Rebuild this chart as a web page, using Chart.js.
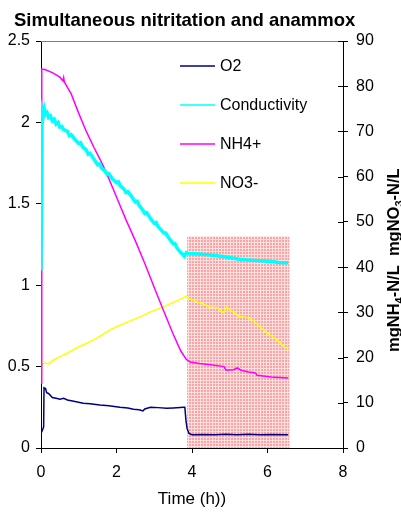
<!DOCTYPE html>
<html lang="en">
<head>
  <meta charset="UTF-8">
  <title>Simultaneous nitritation and anammox</title>
  <script src="https://cdn.jsdelivr.net/npm/chart.js"></script>
  <style>
    body {
      margin: 0;
      background: white;
    }
    #chart {
      display: block;
    }
  </style>
</head>
<body>
  <canvas id="chart" width="401" height="513"></canvas>

  <script>
    const xTicks = [0, 2, 4, 6, 8];
    const leftTicks = [0, 0.5, 1, 1.5, 2, 2.5];
    const rightTicks = [0, 10, 20, 30, 40, 50, 60, 70, 80, 90];

    const o2Time = [0, 0.04, 0.07, 0.08, 0.12, 0.15, 0.2, 0.3, 0.4, 0.5, 0.6, 0.7, 0.9, 1.12, 1.3, 1.56, 1.8, 2.09, 2.3, 2.45, 2.6, 2.7, 2.75, 2.9, 3.1, 3.33, 3.5, 3.78, 3.81, 3.84, 3.87, 3.92, 4.0, 4.3, 4.6, 4.9, 5.2, 5.5, 5.8, 6.1, 6.55];
    const o2Values = [0.09, 0.11, 0.13, 0.37, 0.365, 0.34, 0.335, 0.31, 0.305, 0.30, 0.305, 0.295, 0.285, 0.275, 0.272, 0.264, 0.26, 0.25, 0.245, 0.238, 0.235, 0.228, 0.24, 0.25, 0.248, 0.244, 0.246, 0.25, 0.25, 0.17, 0.12, 0.09, 0.082, 0.083, 0.082, 0.085, 0.082, 0.084, 0.082, 0.083, 0.082];

    const condTime = [0, 0.03, 0.06, 0.09, 0.12, 0.16, 0.2, 0.25, 0.3, 0.35, 0.4, 0.45, 0.5, 0.55, 0.6, 0.7, 0.75, 0.8, 0.9, 1.0, 1.05, 1.1, 1.2, 1.25, 1.3, 1.4, 1.5, 1.55, 1.6, 1.7, 1.75, 1.8, 1.9, 2.0, 2.05, 2.1, 2.2, 2.25, 2.3, 2.4, 2.5, 2.55, 2.6, 2.7, 2.75, 2.8, 2.9, 3.0, 3.05, 3.1, 3.2, 3.25, 3.3, 3.4, 3.5, 3.55, 3.6, 3.7, 3.75, 3.8, 3.85, 3.9, 4.2, 4.5, 4.75, 5.0, 5.25, 5.5, 5.8, 6.1, 6.3, 6.55];
    const condValues = [1.09, 2.07, 2.04, 2.08, 2.05, 2.06, 2.03, 2.04, 2.01, 2.02, 1.99, 2.00, 1.97, 1.975, 1.955, 1.945, 1.92, 1.925, 1.895, 1.87, 1.875, 1.85, 1.83, 1.805, 1.81, 1.775, 1.74, 1.745, 1.72, 1.70, 1.68, 1.685, 1.65, 1.63, 1.635, 1.61, 1.59, 1.57, 1.575, 1.545, 1.51, 1.515, 1.49, 1.46, 1.44, 1.445, 1.41, 1.38, 1.385, 1.36, 1.335, 1.32, 1.32, 1.285, 1.255, 1.255, 1.23, 1.20, 1.19, 1.178, 1.20, 1.195, 1.192, 1.185, 1.178, 1.17, 1.16, 1.155, 1.15, 1.145, 1.14, 1.138];

    const nh4Time = [0, 0.02, 0.1, 0.3, 0.5, 0.58, 0.6, 0.62, 0.8, 1.0, 1.2, 1.4, 1.6, 1.75, 2.0, 2.25, 2.5, 2.75, 3.0, 3.25, 3.5, 3.7, 3.85, 3.95, 4.2, 4.5, 4.85, 4.9, 5.1, 5.2, 5.3, 5.5, 5.68, 5.72, 6.1, 6.55];
    const nh4Values = [14.4, 83.8, 83.7, 83.0, 82.0, 81.2, 81.9, 80.9, 78.3, 74.0, 70.0, 66.5, 63.2, 60.5, 55.5, 50.5, 45.8, 40.8, 35.5, 30.3, 25.2, 21.5, 19.6, 19.0, 18.7, 18.4, 18.0, 17.2, 17.3, 17.7, 17.2, 16.8, 16.6, 16.1, 15.7, 15.5];

    const no3Time = [0, 0.03, 0.1, 0.2, 0.3, 0.5, 0.68, 1.0, 1.2, 1.39, 1.6, 1.8, 2.0, 2.3, 2.62, 2.9, 3.24, 3.5, 3.77, 3.85, 3.9, 4.03, 4.3, 4.48, 4.7, 4.8, 4.85, 4.92, 5.0, 5.27, 5.5, 5.6, 5.89, 6.24, 6.51, 6.55];
    const no3Values = [16.6, 18.5, 18.8, 18.6, 19.3, 20.2, 20.9, 22.4, 23.1, 23.9, 24.9, 26.0, 26.8, 27.9, 29.0, 30.1, 31.2, 32.2, 33.2, 33.6, 33.0, 32.7, 31.8, 31.1, 31.0, 30.0, 30.1, 31.2, 30.6, 29.0, 28.8, 28.3, 26.1, 23.9, 22.0, 21.8];

    // shaded period (h) and its height on the left axis
    const shadeX = [3.87, 6.58];
    const shadeTop = 1.3;

    const FONT = '"Liberation Sans", Arial, sans-serif';

    function pts(t, v) {
      return t.map((x, i) => ({ x: x, y: v[i] }));
    }

    // small pink grid fill for the shaded block
    function makePattern(ctx) {
      const c = document.createElement('canvas');
      c.width = 3;
      c.height = 3;
      const p = c.getContext('2d');
      p.fillStyle = 'rgb(255,222,222)';
      p.fillRect(0, 0, 3, 3);
      p.fillStyle = 'rgb(250,165,165)';
      p.fillRect(0, 0, 2, 2);
      return ctx.createPattern(c, 'repeat');
    }

    const shadePlugin = {
      id: 'shade',
      beforeDatasetsDraw(chart) {
        const ctx = chart.ctx;
        const x = chart.scales.x, y = chart.scales.y;
        const x0 = x.getPixelForValue(shadeX[0]);
        const x1 = x.getPixelForValue(shadeX[1]);
        const y0 = y.getPixelForValue(shadeTop);
        const y1 = y.getPixelForValue(0);
        ctx.save();
        ctx.fillStyle = makePattern(ctx);
        ctx.fillRect(x0, y0, x1 - x0, y1 - y0);
        ctx.restore();
      }
    };

    const decorPlugin = {
      id: 'decor',
      afterDraw(chart) {
        const ctx = chart.ctx;
        const a = chart.chartArea;
        ctx.save();

        // top frame line
        ctx.strokeStyle = '#808080';
        ctx.lineWidth = 1;
        ctx.beginPath();
        ctx.moveTo(a.left, a.top + 0.5);
        ctx.lineTo(a.right, a.top + 0.5);
        ctx.stroke();

        // inner half of the right-axis ticks
        const y2 = chart.scales.y2;
        ctx.strokeStyle = '#000';
        ctx.beginPath();
        rightTicks.forEach(v => {
          const py = Math.round(y2.getPixelForValue(v)) + 0.5;
          ctx.moveTo(a.right - 5, py);
          ctx.lineTo(a.right, py);
        });
        ctx.stroke();

        // title
        ctx.fillStyle = '#000';
        ctx.font = 'bold 18.5px ' + FONT;
        ctx.textAlign = 'left';
        ctx.textBaseline = 'alphabetic';
        ctx.fillText('Simultaneous nitritation and anammox', 14, 26);

        // x title
        ctx.font = '17px ' + FONT;
        ctx.textAlign = 'center';
        ctx.fillText('Time (h))', (a.left + a.right) / 2, 504);

        // legend
        ctx.font = '16px ' + FONT;
        ctx.textAlign = 'left';
        ctx.textBaseline = 'middle';
        chart.data.datasets.forEach((ds, i) => {
          const ly = 66 + i * 39;
          ctx.strokeStyle = ds.borderColor;
          ctx.lineWidth = 1.5;
          ctx.beginPath();
          ctx.moveTo(180, ly);
          ctx.lineTo(215, ly);
          ctx.stroke();
          ctx.fillStyle = '#000';
          ctx.fillText(ds.label, 220, ly + 1);
        });

        // right axis title, rotated, with subscripts
        ctx.translate(399, 352);
        ctx.rotate(-Math.PI / 2);
        ctx.textBaseline = 'alphabetic';
        let cx = 0;
        const parts = [['mgNH', 0], ['4', 1], ['-N/L  mgNO', 0], ['3', 1], ['-N/L', 0]];
        parts.forEach(([s, sub]) => {
          ctx.font = sub ? 'bold 11px ' + FONT : 'bold 16.5px ' + FONT;
          ctx.fillText(s, cx, sub ? 4 : 0);
          cx += ctx.measureText(s).width;
        });
        ctx.restore();
      }
    };

    const tickFont = { family: FONT, size: 16 };

    new Chart(document.getElementById('chart').getContext('2d'), {
      type: 'line',
      data: {
        datasets: [
          { label: 'O2', data: pts(o2Time, o2Values), borderColor: '#000080', borderWidth: 1.5, yAxisID: 'y' },
          { label: 'Conductivity', data: pts(condTime, condValues), borderColor: '#00FFFF', borderWidth: 3.5, yAxisID: 'y' },
          { label: 'NH4+', data: pts(nh4Time, nh4Values), borderColor: '#FF00FF', borderWidth: 1.5, yAxisID: 'y2' },
          { label: 'NO3-', data: pts(no3Time, no3Values), borderColor: '#FFFF00', borderWidth: 1.5, yAxisID: 'y2' }
        ]
      },
      options: {
        responsive: false,
        animation: false,
        elements: {
          point: { radius: 0 },
          line: { tension: 0 }
        },
        layout: { padding: { top: 41, left: 0, right: 0, bottom: 0 } },
        plugins: {
          legend: { display: false },
          title: { display: false },
          tooltip: { enabled: false }
        },
        scales: {
          x: {
            type: 'linear',
            min: 0,
            max: 8,
            afterBuildTicks: s => { s.ticks = xTicks.map(v => ({ value: v })); },
            afterFit: s => { s.height = 65; },
            ticks: { color: '#000', font: tickFont, padding: 10, maxRotation: 0 },
            grid: { drawOnChartArea: false, drawTicks: true, tickLength: 5, color: '#000' },
            border: { display: true, color: '#000' }
          },
          y: {
            position: 'left',
            min: 0,
            max: 2.5,
            afterBuildTicks: s => { s.ticks = leftTicks.map(v => ({ value: v })); },
            afterFit: s => { s.width = 41; },
            ticks: { color: '#000', font: tickFont, padding: 6, callback: v => String(v) },
            grid: { drawOnChartArea: false, drawTicks: true, tickLength: 5, color: '#000' },
            border: { display: true, color: '#000' }
          },
          y2: {
            position: 'right',
            min: 0,
            max: 90,
            afterBuildTicks: s => { s.ticks = rightTicks.map(v => ({ value: v })); },
            afterFit: s => { s.width = 58; },
            ticks: { color: '#000', font: tickFont, padding: 8, callback: v => String(v) },
            grid: { drawOnChartArea: false, drawTicks: true, tickLength: 5, color: '#000' },
            border: { display: true, color: '#000' }
          }
        }
      },
      plugins: [shadePlugin, decorPlugin]
    });
  </script>
</body>
</html>
